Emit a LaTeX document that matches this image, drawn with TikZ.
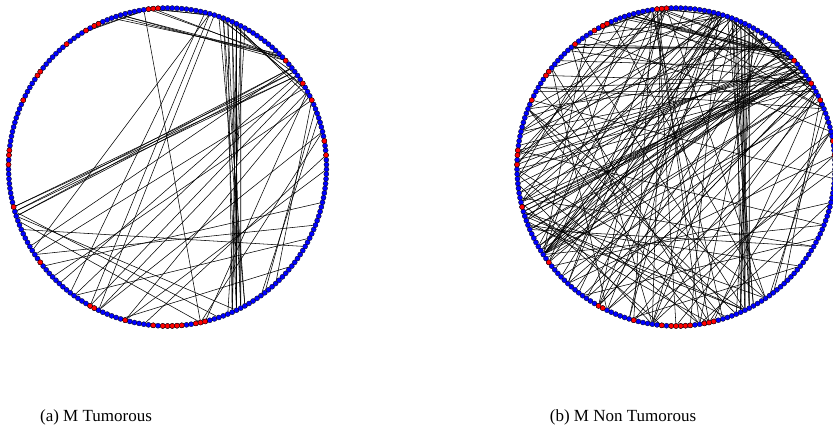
\documentclass[tikz,border=0pt]{standalone}
\usepackage{fontspec}
\setmainfont{Liberation Serif}
\usepackage{xcolor}
\definecolor{netblue}{RGB}{0, 0, 255}
\definecolor{netred}{RGB}{255, 0, 0}
\usetikzlibrary{calc, backgrounds}

\newcommand{\nnodes}{210}
\newcommand{\rad}{159}
% nodos marcados en rojo (iguales en ambos grafos)
\newcommand{\redset}{2,3,4,15,16,18,23,31,32,38,49,50,52,61,74,88,89,96,102,104,105,106,107,108,111,112,113,160,163,172,176,182}
% aristas comunes
\newcommand{\edgesA}{194/119, 195/119, 195/120, 196/120, 196/121, 197/119, 197/121, 198/120, 198/122, 194/121, 199/122, 193/118,
  61/178, 61/179, 62/178, 62/180, 63/179, 63/180,
  10/182, 10/183, 11/183, 3/182, 4/183, 12/184,
  18/4, 19/4, 3/199, 4/200,
  199/175, 197/174, 196/172, 200/178,
  201/71, 201/88, 202/83, 200/90, 5/112,
  178/80, 177/84, 176/88, 175/72, 173/96, 174/90, 172/78, 180/70,
  165/90, 165/112, 174/113, 170/127, 172/130, 168/126,
  63/120, 64/112, 62/116, 66/140,
  157/96, 142/84, 150/75, 160/100, 145/72, 135/95}
% aristas extra del grafo no tumoral
\newcommand{\edgesB}{2/70, 2/80, 3/88, 3/100, 4/105, 4/110, 5/115, 2/125, 5/60, 2/45, 3/52, 4/74, 5/96, 4/170,
  200/50, 201/55, 199/60, 198/72, 197/85, 202/95, 200/30, 201/25, 198/45, 202/64, 200/74, 197/100, 201/108, 203/40, 199/20,
  180/48, 181/50, 182/52, 183/54, 184/56, 179/58, 178/60, 177/49, 176/51, 175/53, 182/64, 180/66, 181/72, 183/74, 176/88, 174/100,
  185/24, 184/10, 182/15, 179/40, 177/35, 178/45, 185/70,
  50/5, 52/10, 55/15, 59/140, 54/110, 56/100, 58/195, 60/190, 49/145, 53/120, 62/125,
  72/185, 72/190, 72/195, 72/198, 72/170, 72/10, 72/20, 71/180, 73/175, 72/200,
  24/186, 23/185, 25/176, 24/100, 23/120,
  105/165, 110/150, 115/35, 118/40, 112/30, 102/60, 125/40, 120/65,
  30/90, 35/170, 40/110, 80/160, 85/175, 135/65, 155/38,
  165/20, 170/8, 188/88, 190/100, 192/110, 206/95, 208/80, 14/125, 28/180, 32/176, 36/174,
  42/188, 46/192, 66/178, 68/182, 76/196, 78/200, 82/190}

\begin{document}
\begin{tikzpicture}[x=1pt, y=1pt,
    vtx/.style={circle, draw=black, line width=0.3pt, inner sep=0pt, minimum size=5.1pt, fill=netblue},
    link/.style={black, line width=0.55pt}]

\useasboundingbox (0,0) rectangle (833,447);

% === Grafo (a): tumoral ===
\begin{scope}[shift={(167.5,280)}]
  \foreach \i in {0,...,209}
    \node[vtx] (L\i) at ({90+\i*(360/\nnodes)}:\rad) {};
\end{scope}
\begin{scope}[on background layer]
  \foreach \a/\b in \edgesA
    \draw[link] (L\a) -- (L\b);
\end{scope}
\foreach \i in \redset
  \node[vtx, fill=netred] (Lr\i) at (L\i) {};

% === Grafo (b): no tumoral ===
\begin{scope}[shift={(676,280)}]
  \foreach \i in {0,...,209}
    \node[vtx] (R\i) at ({90+\i*(360/\nnodes)}:\rad) {};
\end{scope}
\begin{scope}[on background layer]
  \foreach \a/\b in \edgesA
    \draw[link] (R\a) -- (R\b);
  \foreach \a/\b in \edgesB
    \draw[link] (R\a) -- (R\b);
\end{scope}
\foreach \i in \redset
  \node[vtx, fill=netred] (Rr\i) at (R\i) {};

% === Titulos ===
\node[anchor=base, font=\fontsize{17}{20}\selectfont] (capA) at (96,25) {(a) M Tumorous};
\node[anchor=base, font=\fontsize{17}{20}\selectfont] (capB) at (623,25) {(b) M Non Tumorous};

\end{tikzpicture}
\end{document}
